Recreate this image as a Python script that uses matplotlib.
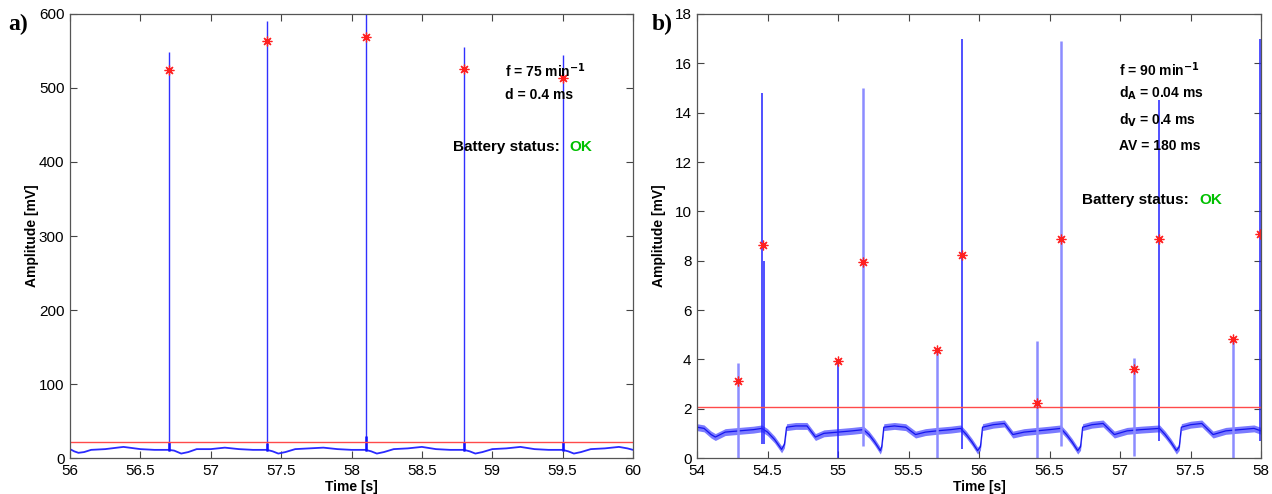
import matplotlib
matplotlib.use("Agg")
import matplotlib.pyplot as plt
from matplotlib import ticker

plt.rcParams['font.family'] = ['Liberation Sans', 'DejaVu Sans']

# ---- panel a data ----
spike_a_t = [56.70, 57.40, 58.10, 58.80, 59.50]
spike_a_top = [548, 591, 610, 555, 545]
spike_a_bump = [22, 20, 30, 22, 22]
star_a_v = [524, 564, 569, 526, 514]
thresh_a = 22

base_a_t = [56.00, 56.03, 56.06, 56.10, 56.15, 56.25, 56.38, 56.50, 56.60, 56.70,
            56.74, 56.79, 56.84, 56.90, 57.00, 57.10, 57.20, 57.30, 57.40, 57.44,
            57.48, 57.53, 57.60, 57.70, 57.80, 57.90, 58.00, 58.10, 58.14, 58.18,
            58.23, 58.30, 58.40, 58.50, 58.60, 58.70, 58.80, 58.84, 58.88, 58.93,
            59.00, 59.10, 59.20, 59.30, 59.40, 59.50, 59.54, 59.58, 59.63, 59.70,
            59.80, 59.90, 59.96, 60.00]
base_a_v = [12, 9, 7, 8, 11, 12, 15, 12, 11, 11,
            10, 6, 8, 12, 12, 14, 12, 11, 11, 9,
            6, 8, 12, 13, 14, 12, 11, 11, 9, 6,
            8, 12, 13, 15, 12, 11, 11, 9, 6, 8,
            12, 13, 15, 12, 11, 11, 9, 6, 8, 12,
            13, 15, 13, 11]

# ---- panel b data ----
spike_b_t = [54.29, 54.46, 54.475, 55.00, 55.18, 55.70, 55.88, 56.41, 56.58, 57.10, 57.28, 57.80, 57.99]
spike_b_lo = [0.0, 0.55, 0.55, 0.0, 0.5, 0.0, 0.35, 0.0, 0.5, 0.1, 0.7, 0.0, 0.7]
spike_b_hi = [3.85, 14.8, 8.0, 3.95, 15.0, 4.4, 17.0, 4.75, 16.9, 4.05, 14.5, 4.85, 17.0]
star_b_t = [54.29, 54.47, 55.00, 55.18, 55.70, 55.88, 56.41, 56.58, 57.10, 57.28, 57.80, 57.995]
star_b_v = [3.12, 8.65, 3.92, 7.95, 4.37, 8.22, 2.25, 8.88, 3.60, 8.88, 4.82, 9.10]
thresh_b = 2.05

base_b_t = [54.00, 54.05, 54.10, 54.13, 54.20, 54.30, 54.40, 54.46, 54.50, 54.55,
            54.60, 54.62, 54.635, 54.70, 54.78, 54.84, 54.90, 55.00, 55.10, 55.18,
            55.22, 55.26, 55.30, 55.31, 55.325, 55.40, 55.48, 55.55, 55.62, 55.70,
            55.80, 55.87, 55.91, 55.95, 55.99, 56.01, 56.025, 56.10, 56.18, 56.24,
            56.32, 56.41, 56.50, 56.58, 56.62, 56.66, 56.70, 56.72, 56.735, 56.80,
            56.88, 56.96, 57.05, 57.15, 57.28, 57.32, 57.36, 57.40, 57.42, 57.435,
            57.50, 57.58, 57.66, 57.75, 57.85, 57.95, 58.00]
base_b_v = [1.25, 1.2, 0.95, 0.85, 1.05, 1.1, 1.15, 1.2, 1.05, 0.75,
            0.35, 0.55, 1.25, 1.3, 1.3, 0.85, 1.0, 1.05, 1.1, 1.15,
            0.95, 0.65, 0.3, 0.45, 1.25, 1.3, 1.25, 0.95, 1.05, 1.1,
            1.15, 1.2, 0.95, 0.65, 0.3, 0.45, 1.25, 1.35, 1.4, 0.95,
            1.05, 1.1, 1.15, 1.2, 0.95, 0.65, 0.3, 0.45, 1.25, 1.35,
            1.4, 0.95, 1.1, 1.15, 1.2, 0.95, 0.65, 0.3, 0.45, 1.25,
            1.35, 1.4, 0.95, 1.1, 1.15, 1.2, 1.1]

# per-spike line look in panel b (faint vs. solid)
spike_b_light = [True, False, False, False, True, True, False, True, True, True, False, True, False]

fig = plt.figure(figsize=(12.72, 4.94), dpi=100)
ax_a = fig.add_axes([70 / 1272, 36 / 494, 563 / 1272, 444 / 494])
ax_b = fig.add_axes([697 / 1272, 36 / 494, 564 / 1272, 444 / 494])


def style_axes(ax, xlim, ylim, ystep):
    ax.set_xlim(*xlim)
    ax.set_ylim(*ylim)
    ax.xaxis.set_major_locator(ticker.MultipleLocator(0.5))
    ax.yaxis.set_major_locator(ticker.MultipleLocator(ystep))
    ax.xaxis.set_major_formatter(ticker.FormatStrFormatter('%g'))
    ax.yaxis.set_major_formatter(ticker.FormatStrFormatter('%g'))
    ax.tick_params(direction='in', top=True, right=True, length=5, width=0.8,
                   color='#444444', labelsize=11)
    ax.tick_params(axis='x', pad=4)
    ax.tick_params(axis='y', pad=4)
    for s in ax.spines.values():
        s.set_color('#555555')
        s.set_linewidth(0.9)
    ax.set_xlabel('Time [s]', fontsize=10, fontweight='bold', va='center')
    ax.set_ylabel('Amplitude [mV]', fontsize=10, fontweight='bold', va='center')
    ax.xaxis.set_label_coords(0.5, -0.065)
    ax.yaxis.set_label_coords(-0.068, 0.5)


star_marker = (8, 2, 0)
txt_kw = dict(fontsize=10, fontweight='bold')
bat_kw = dict(fontsize=11, fontweight='bold')

# ---- panel a ----
ax = ax_a
ax.plot(base_a_t, base_a_v, color='#2a2aff', lw=1.3)
ax.vlines(spike_a_t, [10] * len(spike_a_t), spike_a_top, color='#3030ff', lw=1.0)
ax.vlines(spike_a_t, [10] * len(spike_a_t), spike_a_bump, color='#1010ff', lw=1.8)
ax.axhline(thresh_a, color='#ff4a4a', lw=1.0)
ax.plot(spike_a_t, star_a_v, ls='none', marker=star_marker, ms=7, mew=0.9, color='#ff2020')
style_axes(ax, (56, 60), (0, 600), 100)
ax.text(59.09, 524, 'f = 75 min$^{\\mathbf{-1}}$', va='center', **txt_kw)
ax.text(59.09, 490, 'd = 0.4 ms', va='center', **txt_kw)
ax.text(58.72, 420, 'Battery status:', va='center', **bat_kw)
ax.text(59.55, 420, 'OK', va='center', color='#00c000', **bat_kw)

# ---- panel b ----
ax = ax_b
ax.fill_between(base_b_t, [v - 0.14 for v in base_b_v], [v + 0.14 for v in base_b_v],
                color='#7a7aff', lw=0)
ax.plot(base_b_t, base_b_v, color='#1515ee', lw=0.9)
for t, lo, hi, light in zip(spike_b_t, spike_b_lo, spike_b_hi, spike_b_light):
    if light:
        ax.vlines(t, lo, hi, color='#8c8cff', lw=1.8)
    else:
        ax.vlines(t, lo, hi, color='#2020ff', lw=1.1)
ax.axhline(thresh_b, color='#ff4a4a', lw=1.0)
ax.plot(star_b_t, star_b_v, ls='none', marker=star_marker, ms=7, mew=0.9, color='#ff2020')
style_axes(ax, (54, 58), (0, 18), 2)
ax.text(56.99, 15.73, 'f = 90 min$^{\\mathbf{-1}}$', va='center', **txt_kw)
ax.text(56.99, 14.80, 'd$_{\\mathbf{A}}$ = 0.04 ms', va='center', **txt_kw)
ax.text(56.99, 13.70, 'd$_{\\mathbf{V}}$ = 0.4 ms', va='center', **txt_kw)
ax.text(56.99, 12.65, 'AV = 180 ms', va='center', **txt_kw)
ax.text(56.73, 10.46, 'Battery status:', va='center', **bat_kw)
ax.text(57.56, 10.46, 'OK', va='center', color='#00c000', **bat_kw)

# panel letters
fig.text(8 / 1272, 1 - 24 / 494, 'a)', fontsize=17, fontweight='bold',
         family=['Liberation Serif', 'DejaVu Serif'], va='center')
fig.text(652 / 1272, 1 - 24 / 494, 'b)', fontsize=17, fontweight='bold',
         family=['Liberation Serif', 'DejaVu Serif'], va='center')

fig.savefig('out.png', dpi=100)
